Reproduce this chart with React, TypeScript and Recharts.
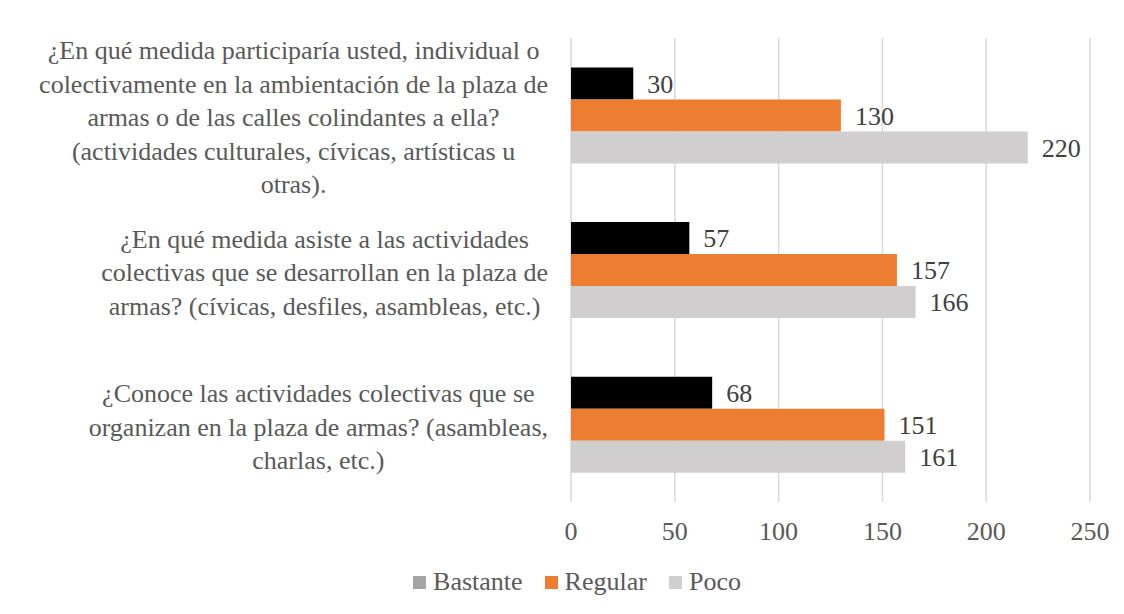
import { BarChart, Bar, XAxis, YAxis, CartesianGrid, Legend, LabelList } from 'recharts';

const questions = [
  '¿En qué medida participaría usted, individual o\ncolectivamente en la ambientación de la plaza de\narmas o de las calles colindantes a ella?\n(actividades culturales, cívicas, artísticas u\notras).',
  '¿En qué medida asiste a las actividades\ncolectivas que se desarrollan en la plaza de\narmas? (cívicas, desfiles, asambleas, etc.)',
  '¿Conoce las actividades colectivas que se\norganizan en la plaza de armas? (asambleas,\ncharlas, etc.)',
];
const bastante = [30, 57, 68];
const regular = [130, 157, 151];
const poco = [220, 166, 161];
const xTicks = [0, 50, 100, 150, 200, 250];

const series = [
  { key: 'Bastante', fill: '#000000', legend: '#A5A5A5' },
  { key: 'Regular', fill: '#ED7D31', legend: '#ED7D31' },
  { key: 'Poco', fill: '#D0CECE', legend: '#D0CECE' },
];

const data = questions.map((q, i) => ({
  name: q,
  Bastante: bastante[i],
  Regular: regular[i],
  Poco: poco[i],
}));

const FONT = 'Liberation Serif';
const FS = 26;

let ctx: CanvasRenderingContext2D | null = null;
function measure(s: string) {
  if (!ctx) ctx = document.createElement('canvas').getContext('2d');
  if (!ctx) return s.length * 12;
  ctx.font = `${FS}px "${FONT}"`;
  return ctx.measureText(s).width;
}

function QuestionTick({ x, y, payload }: any) {
  const lines: string[] = String(payload.value).split('\n');
  const maxW = Math.max(...lines.map(measure));
  const right = x - 15;
  const cx = right - maxW / 2;
  const lh = 33.5;
  return (
    <g>
      {lines.map((l, i) => (
        <text
          key={i}
          x={cx}
          y={y + 2 + (i - (lines.length - 1) / 2) * lh}
          dy="0.35em"
          textAnchor="middle"
          fill="#595959"
          fontSize={FS}
          style={{ fontFamily: FONT }}
        >
          {l}
        </text>
      ))}
    </g>
  );
}

function LegendBox() {
  return (
    <div style={{ display: 'flex', justifyContent: 'center', paddingLeft: 30, fontFamily: FONT, fontSize: FS, color: '#595959', height: 30, alignItems: 'center' }}>
      {series.map(s => (
        <div key={s.key} style={{ display: 'flex', alignItems: 'center', margin: '0 11px' }}>
          <span style={{ width: 13, height: 13, background: s.legend, display: 'inline-block', marginRight: 7 }} />
          <span>{s.key}</span>
        </div>
      ))}
    </div>
  );
}

export default function App() {
  return (
    <div style={{ position: 'absolute', left: 0, top: 0, background: '#fff', fontFamily: FONT }}>
      <BarChart
        width={1124}
        height={614}
        data={data}
        layout="vertical"
        margin={{ top: 38, right: 34, bottom: 42, left: 0 }}
        barCategoryGap="19%"
        barGap={0}
        style={{ fontFamily: FONT }}
      >
        <CartesianGrid horizontal={false} stroke="#D9D9D9" strokeWidth={1.5} />
        <XAxis
          type="number"
          domain={[0, 250]}
          ticks={xTicks}
          axisLine={false}
          tickLine={false}
          tickMargin={14}
          height={40}
          tick={{ fill: '#595959', fontSize: FS, fontFamily: FONT }}
        />
        <YAxis
          type="category"
          dataKey="name"
          width={571}
          axisLine={false}
          tickLine={false}
          tick={<QuestionTick />}
          interval={0}
        />
        {series.map(s => (
          <Bar key={s.key} dataKey={s.key} fill={s.fill} isAnimationActive={false}>
            <LabelList dataKey={s.key} position="right" offset={14} fill="#404040" fontSize={FS} fontFamily={FONT} />
          </Bar>
        ))}
        <Legend verticalAlign="bottom" content={<LegendBox />} wrapperStyle={{ bottom: 17, left: 0, width: 1124 }} />
      </BarChart>
    </div>
  );
}
